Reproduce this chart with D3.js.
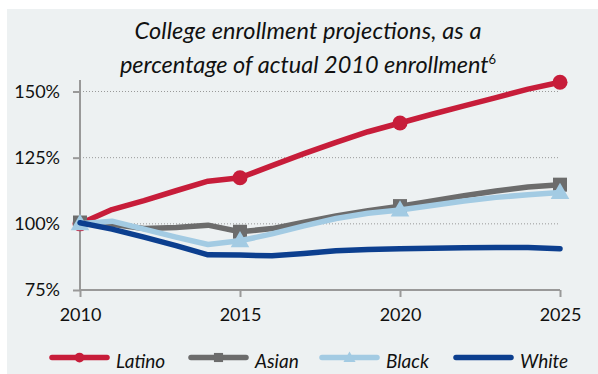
<!DOCTYPE html>
<html><head><meta charset="utf-8">
<script src="https://cdn.jsdelivr.net/npm/d3@7"></script>
<style>
html,body{margin:0;padding:0;background:#fff;}
svg{display:block;}
text{font-family:Lato,"Open Sans",sans-serif;fill:#111;}
</style></head><body>
<svg id="c" width="598" height="374"></svg>
<script>
const years = [2010,2011,2012,2013,2014,2015,2016,2017,2018,2019,2020,2021,2022,2023,2024,2025];
const markerYears = [2010,2015,2020,2025];
const latino = [100,105.4,108.8,112.5,116.1,117.4,122,126.5,130.8,134.8,138.1,141.4,144.6,147.7,150.9,153.5];
const asian  = [100.5,99.8,98.2,98.6,99.5,97,98.2,100.6,103,105,106.7,108.6,110.6,112.4,113.9,114.8];
const black  = [100,101,98,95,92.2,93.6,96.2,99.2,102,104,105.2,106.9,108.6,110,111,111.8];
const white  = [100.4,98,95,91.8,88.3,88.2,87.9,88.8,89.8,90.3,90.6,90.8,91,91.1,91.1,90.6];
const seriesNames = ["Latino","Asian","Black","White"];
const seriesColors = ["#c71d3a","#6c6c6c","#a3cbe3","#0c3f8f"];
const seriesMarkers = ["circle","square","triangle","none"];
const yTicks = [75,100,125,150];
const xTicks = [2010,2015,2020,2025];
const titleLines = ["College enrollment projections, as a","percentage of actual 2010 enrollment"];

const series = [latino,asian,black,white];
const svg = d3.select("#c");
svg.append("rect").attr("x",7).attr("y",9).attr("width",591).attr("height",365).attr("fill","#edf1f2");

const x = d3.scaleLinear().domain([2010,2025]).range([80,560]);
const y = d3.scaleLinear().domain([75,150]).range([290,91.5]);

// title
svg.append("text").attr("x",308).attr("y",39).attr("text-anchor","middle")
  .style("font-size","23.5px").style("font-style","italic").attr("textLength",347).text(titleLines[0]);
const t2 = svg.append("text").attr("x",308).attr("y",73).attr("text-anchor","middle")
  .style("font-size","23.5px").style("font-style","italic");
t2.append("tspan").text(titleLines[1]);
t2.append("tspan").attr("dy",-9).style("font-size","13px").style("font-style","normal").text("6");

// gridlines
svg.append("g").selectAll("line").data(yTicks.filter(d=>d>75)).join("line")
  .attr("x1",80).attr("x2",558).attr("y1",d=>y(d)).attr("y2",d=>y(d))
  .attr("stroke","#999").attr("stroke-width",1).attr("stroke-dasharray","1,2");

// y axis
const yAxis = svg.append("g").attr("transform","translate(80,0)")
  .call(d3.axisLeft(y).tickValues(yTicks).tickFormat(d=>d+"%").tickSize(7).tickPadding(13));
yAxis.select(".domain").attr("d","M0,80V290").attr("stroke","#999").attr("stroke-width",2);
yAxis.selectAll(".tick line").attr("stroke","#999").attr("stroke-width",2);
yAxis.selectAll(".tick text").style("font-size","18px").style("font-family","Lato,sans-serif").attr("fill","#111");

// x axis
const xAxis = svg.append("g").attr("transform","translate(0,290)")
  .call(d3.axisBottom(x).tickValues(xTicks).tickFormat(d3.format("d")).tickSize(7).tickPadding(11));
xAxis.select(".domain").attr("d","M80,0H560").attr("stroke","#999").attr("stroke-width",2);
xAxis.selectAll(".tick line").attr("stroke","#999").attr("stroke-width",2);
xAxis.selectAll(".tick text").style("font-size","18px").style("font-family","Lato,sans-serif").attr("fill","#111");

const line = d3.line().x((d,i)=>x(years[i])).y(d=>y(d));

function drawMarker(g, type, cx, cy, color, scale){
  if(type==="circle") g.append("circle").attr("cx",cx).attr("cy",cy).attr("r",7.5*scale).attr("fill",color);
  else if(type==="square") g.append("rect").attr("x",cx-7*scale).attr("y",cy-7*scale).attr("width",14*scale).attr("height",14*scale).attr("fill",color);
  else if(type==="triangle") g.append("path").attr("d",d3.symbol().type(d3.symbolTriangle).size(150*scale*scale)()).attr("transform",`translate(${cx},${cy+1})`).attr("fill",color);
}

series.forEach((vals,si)=>{
  const g = svg.append("g");
  g.append("path").attr("d",line(vals)).attr("fill","none").attr("stroke",seriesColors[si])
    .attr("stroke-width",5.5).attr("stroke-linejoin","round").attr("stroke-linecap","round");
  markerYears.forEach(yr=>{
    const i = years.indexOf(yr);
    drawMarker(g, seriesMarkers[si], x(yr), y(vals[i]), seriesColors[si], 1);
  });
});

// legend
const legX = [52,191,322,456];
const lg = svg.append("g");
seriesNames.forEach((n,i)=>{
  const lx = legX[i], ly = 357.5;
  lg.append("line").attr("x1",lx).attr("x2",lx+55).attr("y1",ly).attr("y2",ly)
    .attr("stroke",seriesColors[i]).attr("stroke-width",5.5).attr("stroke-linecap","round");
  drawMarker(lg, seriesMarkers[i], lx+27.5, ly, seriesColors[i], 0.65);
  lg.append("text").attr("x",lx+64).attr("y",ly+10).style("font-size","19px").style("font-style","italic").text(n);
});
</script>
</body></html>
